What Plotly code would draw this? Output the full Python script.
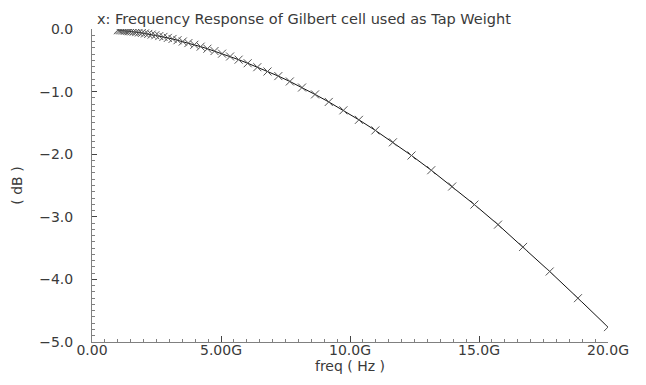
import plotly.graph_objects as go

# Frequency sweep points (GHz)
freq_ghz = [1.000, 1.062, 1.127, 1.197, 1.271, 1.349, 1.432, 1.521, 1.615, 1.714,
            1.821, 1.933, 2.052, 2.179, 2.314, 2.456, 2.608, 2.769, 2.940, 3.121,
            3.314, 3.519, 3.736, 3.967, 4.212, 4.472, 4.748, 5.041, 5.352, 5.683,
            6.034, 6.407, 6.802, 7.222, 7.668, 8.141, 8.644, 9.177, 9.744, 10.346,
            10.984, 11.664, 12.384, 13.149, 13.960, 14.822, 15.737, 16.709, 17.740, 18.836,
            20.000]

# Gain (dB)
gain_db = [-0.017, -0.019, -0.022, -0.025, -0.028, -0.031, -0.035, -0.039, -0.044, -0.050,
           -0.056, -0.063, -0.071, -0.079, -0.089, -0.100, -0.113, -0.126, -0.142, -0.159,
           -0.179, -0.200, -0.225, -0.252, -0.282, -0.315, -0.352, -0.394, -0.439, -0.490,
           -0.547, -0.610, -0.679, -0.752, -0.838, -0.935, -1.045, -1.165, -1.299, -1.451,
           -1.620, -1.810, -2.021, -2.256, -2.516, -2.805, -3.125, -3.481, -3.874, -4.300,
           -4.762]

x_tickvals = [0, 5, 10, 15, 20]
x_ticktext = ["0.00", "5.00G", "10.0G", "15.0G", "20.0G"]
y_tickvals = [0, -1, -2, -3, -4, -5]
y_ticktext = ["0.0", "\u22121.0", "\u22122.0", "\u22123.0", "\u22124.0", "\u22125.0"]

title_text = "x: Frequency Response of Gilbert cell used as Tap Weight"
x_title = "freq ( Hz )"
y_title = "( dB )"

FONT = "DejaVu Sans"
FS = 14
TXT = "#3a3a3a"
AX = "#808080"

fig = go.Figure()
fig.add_trace(go.Scatter(
    x=freq_ghz, y=gain_db, mode="lines+markers",
    line=dict(color="#111111", width=1),
    marker=dict(symbol="x-thin", size=8, line=dict(color="#555555", width=1)),
    showlegend=False, hoverinfo="skip",
))

fig.update_layout(
    width=646, height=385,
    margin=dict(l=92, r=38, t=29, b=43),
    paper_bgcolor="white", plot_bgcolor="white",
    font=dict(family=FONT, size=FS, color=TXT),
    xaxis=dict(
        range=[0, 20], tickvals=x_tickvals, ticktext=x_ticktext,
        showgrid=False, zeroline=False, showline=True, linecolor=AX, linewidth=1,
        ticks="inside", ticklen=6, tickcolor="#444444", tickwidth=1,
        minor=dict(dtick=0.5, ticks="inside", ticklen=3, tickcolor=AX, showgrid=False),
        tickfont=dict(family=FONT, size=FS, color=TXT),
        ticklabelstandoff=-5,
        title=dict(text=x_title, standoff=2, font=dict(family=FONT, size=FS, color=TXT)),
        fixedrange=True,
    ),
    yaxis=dict(
        range=[-5, 0], tickvals=y_tickvals, ticktext=y_ticktext,
        showgrid=False, zeroline=False, showline=True, linecolor=AX, linewidth=1,
        ticks="inside", ticklen=5, tickcolor="#444444", tickwidth=1,
        minor=dict(dtick=0.1, ticks="inside", ticklen=3, tickcolor=AX, showgrid=False),
        tickfont=dict(family=FONT, size=FS, color=TXT),
        ticklabelstandoff=15,
        title=dict(text=y_title, standoff=13, font=dict(family=FONT, size=FS, color=TXT)),
        fixedrange=True,
    ),
    annotations=[dict(
        text=title_text, xref="paper", yref="paper", x=0.006, y=1,
        xanchor="left", yanchor="middle", yshift=10, showarrow=False,
        font=dict(family=FONT, size=14.5, color=TXT),
    )],
)

fig.write_html("out.html")
